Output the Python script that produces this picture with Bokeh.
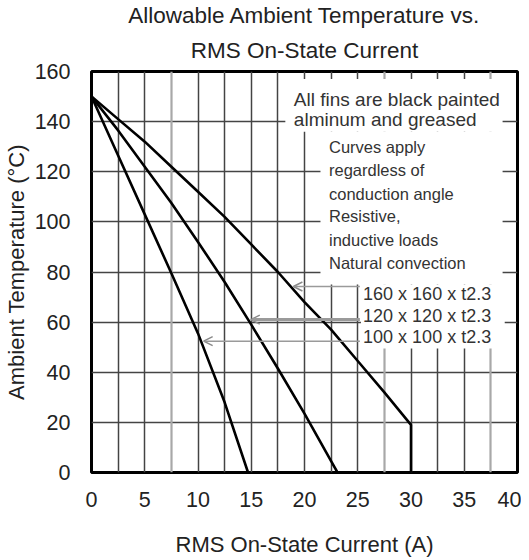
import numpy as np
from bokeh.plotting import figure
from bokeh.models import (Range1d, FixedTicker, Grid, BoxAnnotation, Label,
                          Arrow, OpenHead, Title)
from bokeh.embed import file_html
from bokeh.resources import INLINE

FONT = "Liberation Sans"

# ---------------- data ----------------
title_lines = ["Allowable Ambient Temperature vs.", "RMS On-State Current"]
x_label = "RMS On-State Current (A)"
y_label = "Ambient Temperature (\u00b0C)"
x_ticks = [0, 5, 10, 15, 20, 25, 30, 35, 40]
y_ticks = [0, 20, 40, 60, 80, 100, 120, 140, 160]
x_grid_dark = [2.5, 5, 10, 12.5, 15, 17.5, 20, 22.5, 25, 30, 32.5, 35]
x_grid_light = [7.5, 27.5, 37.5]
y_grid = [20, 40, 60, 80, 100, 120, 140]

curve_labels = ["160 x 160 x t2.3", "120 x 120 x t2.3", "100 x 100 x t2.3"]
curve_160_x = [0, 2.5, 5, 7.5, 10, 12.5, 15, 17.5, 20, 22.5, 25, 27.5, 30, 30]
curve_160_y = [150, 141, 132, 122, 112, 102, 91, 80, 68, 57, 44.5, 32, 19, 0]
curve_120_x = [0, 2.5, 5, 7.5, 10, 12.5, 15, 17.5, 20, 22.5, 23.1]
curve_120_y = [150, 136.5, 122, 107.5, 92, 76, 59, 41.5, 23.5, 4.5, 0]
curve_100_x = [0, 2.5, 5, 7.5, 10, 12.5, 14.7]
curve_100_y = [150, 126.5, 103, 79.5, 55.5, 28, 0]
arrow_temps = [74.2, 61.0, 52.4]

note_1 = ["All fins are black painted", "alminum and greased"]
note_2 = ["Curves apply", "regardless of", "conduction angle", "Resistive,",
          "inductive loads", "Natural convection"]

# ---------------- figure ----------------
p = figure(frame_width=426, frame_height=401, x_range=Range1d(0, 40), y_range=Range1d(0, 160),
           output_backend="svg", toolbar_location=None,
           min_border_left=79, min_border_right=4, min_border_top=65,
           min_border_bottom=78, background_fill_color="white",
           border_fill_color="white")

p.outline_line_color = "black"
p.outline_line_width = 3

for ax in (p.xaxis, p.yaxis):
    ax.axis_line_color = None
    ax.major_tick_line_color = None
    ax.minor_tick_line_color = None
    ax.major_tick_out = 0
    ax.major_tick_in = 0
    ax.minor_tick_out = 0
    ax.major_label_text_font = FONT
    ax.major_label_text_font_size = "21.5px"
    ax.major_label_text_color = "#222222"
    ax.axis_label_text_font = FONT
    ax.axis_label_text_font_size = "22px"
    ax.axis_label_text_font_style = "normal"
    ax.axis_label_text_color = "#222222"

p.xaxis.ticker = FixedTicker(ticks=x_ticks)
p.yaxis.ticker = FixedTicker(ticks=y_ticks)
p.xaxis.axis_label = x_label
p.yaxis.axis_label = y_label
p.xaxis.major_label_standoff = 19
p.xaxis.axis_label_standoff = 22
p.yaxis.major_label_standoff = 21
p.yaxis.axis_label_standoff = 3

p.xgrid.ticker = FixedTicker(ticks=x_grid_dark)
p.xgrid.grid_line_color = "#444444"
p.xgrid.grid_line_width = 1.5
p.ygrid.ticker = FixedTicker(ticks=y_grid)
p.ygrid.grid_line_color = "#444444"
p.ygrid.grid_line_width = 1.5
light = Grid(dimension=0, ticker=FixedTicker(ticks=x_grid_light),
             grid_line_color="#a8a8a8", grid_line_width=2.2)
p.add_layout(light)

# titles (line 2 first: closest to frame)
p.add_layout(Title(text=title_lines[1], align="center", text_font=FONT,
                   text_font_size="22.5px", text_font_style="normal",
                   text_color="#222222", standoff=17), "above")
p.add_layout(Title(text=title_lines[0], align="center", text_font=FONT,
                   text_font_size="22.5px", text_font_style="normal",
                   text_color="#222222", standoff=0), "above")

# white note areas hiding the grid
for l, r, b, t in [(18.2, 38.6, 136, 157), (21.5, 38.6, 75, 136), (25.3, 38.8, 49.5, 75)]:
    p.add_layout(BoxAnnotation(left=l, right=r, bottom=b, top=t, fill_color="white",
                               fill_alpha=1, line_color=None))

# curves
curves = [(curve_160_x, curve_160_y), (curve_120_x, curve_120_y), (curve_100_x, curve_100_y)]
for xs, ys in curves:
    p.line(xs, ys, line_color="black", line_width=2.6, line_join="round")

# leader arrows
widths = [1.5, 3.0, 1.5]
for (xs, ys), t, w in zip(curves, arrow_temps, widths):
    tip = float(np.interp(t, ys[::-1], xs[::-1]))
    p.add_layout(Arrow(end=OpenHead(size=9, line_color="#8a8a8a", line_width=1.5),
                       x_start=25.2, y_start=t, x_end=tip + 0.25, y_end=t,
                       line_color="#9a9a9a", line_width=w))

# notes
for txt, yv in zip(note_1, [148.8, 140.9]):
    p.add_layout(Label(x=19.0, y=yv, text=txt, text_font=FONT, text_font_size="19px",
                       text_baseline="middle", text_color="#333333"))
for txt, yv in zip(note_2, [129.7, 120.5, 111.3, 102.2, 92.6, 83.4]):
    p.add_layout(Label(x=22.3, y=yv, text=txt, text_font=FONT, text_font_size="16.5px",
                       text_baseline="middle", text_color="#333333"))
for txt, yv in zip(curve_labels, [71.4, 62.6, 53.9]):
    p.add_layout(Label(x=25.5, y=yv, text=txt, text_font=FONT, text_font_size="18px",
                       text_baseline="middle", text_color="#333333"))

open("out.html", "w").write(file_html(p, INLINE))
